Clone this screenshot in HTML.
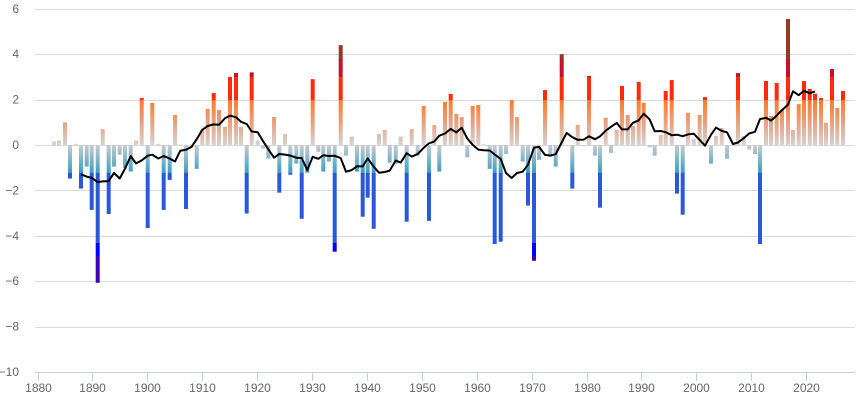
<!DOCTYPE html>
<html><head><meta charset="utf-8"><style>
html,body{margin:0;padding:0;background:#fff;}
svg{display:block;font-family:"Liberation Sans",sans-serif;}
</style></head><body>
<svg id="c" width="859" height="400" viewBox="0 0 859 400" xmlns="http://www.w3.org/2000/svg">
<defs>
<linearGradient id="g" gradientUnits="userSpaceOnUse" x1="0" y1="0" x2="0" y2="400">
<stop offset="0" stop-color="#943828"/>
<stop offset="0.1475" stop-color="#943828"/>
<stop offset="0.1475" stop-color="#c8102e"/>
<stop offset="0.1925" stop-color="#c8102e"/>
<stop offset="0.1925" stop-color="#ff2a10"/>
<stop offset="0.25" stop-color="#ff2a10"/>
<stop offset="0.25" stop-color="#ff7a2a"/>
<stop offset="0.305" stop-color="#e9a07e"/>
<stop offset="0.3625" stop-color="#d8d2d0"/>
<stop offset="0.3625" stop-color="#c8ccd0"/>
<stop offset="0.4325" stop-color="#3a9ec2"/>
<stop offset="0.4325" stop-color="#2a58d8"/>
<stop offset="0.6075" stop-color="#2a58d8"/>
<stop offset="0.6075" stop-color="#0000ff"/>
<stop offset="0.64" stop-color="#0000ff"/>
<stop offset="0.64" stop-color="#4000c0"/>
<stop offset="1" stop-color="#4000c0"/>
</linearGradient>
</defs>
<g id="grid" stroke="#d9d9d9" stroke-width="1"></g>
<g id="bars"></g>
<polyline id="ma" fill="none" stroke="#000" stroke-width="2" stroke-linejoin="round"/>
<line x1="35" y1="372.5" x2="855" y2="372.5" stroke="#c0d0e0" stroke-width="1"/>
<g id="xt" stroke="#c0d0e0" stroke-width="1"></g>
<g id="lbl" fill="#666" font-size="12"></g>
</svg>
<script>
var d=[[54,0.15],[59,0.2],[65,1.0],[70,-1.48],[75.7,0.05],[81,-1.92],[86.7,-0.95],[91.7,-2.86],[97.7,-6.07],[102.7,0.7],[108.7,-3.04],[114,-0.95],[119.7,-0.43],[125,-1.0],[130.7,-1.17],[136,0.2],[141.7,2.07],[147.7,-3.66],[152.3,1.85],[158.3,0.05],[163.7,-2.86],[169.7,-1.54],[175,1.32],[180.3,0.02],[186,-2.82],[191.7,0.02],[196.7,-1.05],[202.3,0.66],[207.7,1.59],[213.7,2.29],[219,1.54],[225,0.8],[230,3.0],[236,3.17],[241,0.8],
[246.7,-3.02],[251.7,3.2],[257.7,0.2],[263,-0.16],[268.3,-0.6],[274,1.23],[279.3,-2.1],[285,0.48],[290.3,-1.31],[296.3,-0.82],[301.7,-3.25],[307.3,-1.22],[312.7,2.9],[318.3,-0.3],[323.3,-1.17],[329,-0.73],[334.7,-4.7],[340.7,4.4],[346,-0.47],[351.7,0.37],[357,-1.17],[362.7,-3.16],[367.7,-2.32],[373.7,-3.69],[379,0.48],[384.7,0.67],[389.7,-0.78],[395.7,-0.82],[400.7,0.37],[406.7,-3.38],[411.7,0.7],[417.7,-0.47],[423.7,1.72],[429,-3.34],[434.3,0.88],[439.3,-1.17],
[445,1.9],[450.7,2.25],[456.3,1.37],[461.7,1.23],[467.3,-0.54],[472.7,1.72],[478.3,1.76],[483.7,0.03],[489.7,-1.05],[494.7,-4.35],[500.7,-4.26],[506,-0.4],[511.7,1.98],[517,1.23],[522.7,-0.73],[528,-2.67],[534,-5.1],[539,-0.65],[545,2.42],[550.3,-0.43],[555.7,-0.95],[561.7,4.0],[566.7,0.0],[572.3,-1.92],[577.7,0.88],[583.7,-0.05],[589,3.04],[595,-0.47],[600,-2.76],[605.7,1.2],[611,-0.35],[616.7,0.66],[622,2.6],[627.7,1.32],[633,0.84],[638.7,2.78],[643.7,1.86],
[649.7,-0.1],[654.7,-0.47],[660.7,0.44],[665.7,2.38],[671.7,2.86],[677,-2.14],[682.7,-3.07],[688,1.41],[693.7,0.26],[699.7,1.32],[705,2.11],[711,-0.82],[716,0.4],[721.7,0.75],[727,-0.6],[733,0.02],[738,3.17],[743.7,0.4],[749.3,-0.2],[755,-0.4],[760,-4.35],[766,2.82],[771,1.28],[776.7,2.73],[782,1.54],[788,5.55],[793,0.66],[798.7,1.8],[804,2.82],[809.7,2.47],[815,2.26],[821,2.07],[826,0.97],[832,3.35],[837.3,1.63],[843,2.38]];
var NS="http://www.w3.org/2000/svg";
function el(t,a,p,txt){var e=document.createElementNS(NS,t);for(var k in a)e.setAttribute(k,a[k]);if(txt!=null)e.textContent=txt;p.appendChild(e);return e;}
function Y(v){return 145-v*22.7;}
var grid=document.getElementById('grid'),lbl=document.getElementById('lbl'),bars=document.getElementById('bars'),xt=document.getElementById('xt');
for(var v=6;v>=-8;v-=2){var y=Math.round(Y(v))+0.5;el('line',{x1:35,x2:855,y1:y,y2:y},grid);}
for(var v=6;v>=-10;v-=2){el('text',{x:19,y:Y(v)+4,'text-anchor':'end'},lbl,v<0?'\u2212'+(-v):''+v);}
for(var i=0;i<=14;i++){var x=Math.round(37.5+i*54.9)+0.5;el('line',{x1:x,x2:x,y1:372,y2:381},xt);el('text',{x:x,y:392,'text-anchor':'middle'},lbl,''+(1880+i*10));}
d.forEach(function(p){var y0=Y(p[1]);var top=Math.min(y0,145),h=Math.abs(y0-145);if(h<0.6)h=0.6;el('rect',{x:p[0]-2,y:top,width:4,height:h,fill:'url(#g)'},bars);});
var pts=[];for(var i=5;i<d.length-5;i++){var s=0;for(var j=i-5;j<=i+5;j++)s+=d[j][1];pts.push(d[i][0].toFixed(1)+','+Y(s/11).toFixed(1));}
document.getElementById('ma').setAttribute('points',pts.join(' '));
</script>
</body></html>
